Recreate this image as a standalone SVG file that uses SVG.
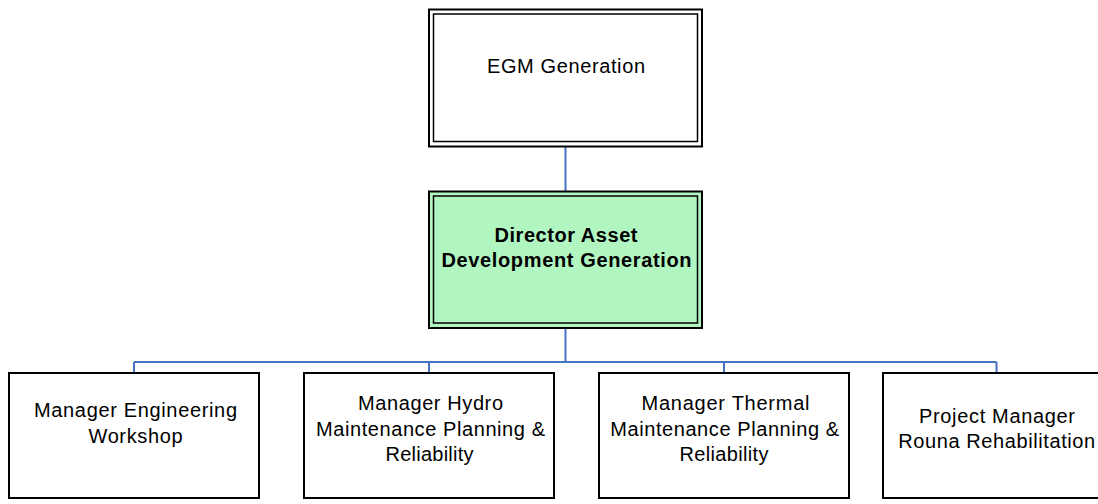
<svg xmlns="http://www.w3.org/2000/svg" width="1098" height="504" viewBox="0 0 1098 504">
<style>
.box{fill:#ffffff;stroke:#000000;stroke-width:2}
.outer{stroke:#000000;stroke-width:2}
.inner{fill:none;stroke:#000000;stroke-width:1.5}
.conn{fill:none;stroke:#4472C4;stroke-width:2}
text{font-family:"Liberation Sans",Arial,sans-serif;font-size:20px;fill:#000000;text-anchor:middle}
.b{font-weight:bold}
</style>
<rect width="1098" height="504" fill="#ffffff"/>
<g id="connectors">
<path class="conn" d="M565.5 147 V191 M565.5 328 V362 M134 362 H996.5 M134 362 V373 M429 362 V373 M724 362 V373 M996.5 362 V373"/>
</g>
<g id="egm">
<rect class="outer" x="429" y="9.5" width="273" height="137" fill="#ffffff"/>
<rect class="inner" x="433.5" y="14" width="264" height="127.5"/>
<text x="566" y="72.5" textLength="158" lengthAdjust="spacing">EGM Generation</text>
</g>
<g id="director">
<rect class="outer" x="429" y="191.5" width="273" height="136.5" fill="#b1f5c0"/>
<rect class="inner" x="433.5" y="196" width="264" height="127"/>
<text class="b" x="566" y="241.5" textLength="143" lengthAdjust="spacing">Director Asset</text>
<text class="b" x="566.5" y="267" textLength="250" lengthAdjust="spacing">Development Generation</text>
</g>
<g id="engineering">
<rect class="box" x="9" y="373" width="250" height="125"/>
<text x="135.5" y="417" textLength="203" lengthAdjust="spacing">Manager Engineering</text>
<text x="135.5" y="443" textLength="94" lengthAdjust="spacing">Workshop</text>
</g>
<g id="hydro">
<rect class="box" x="304" y="373" width="250" height="125"/>
<text x="430.5" y="410" textLength="145" lengthAdjust="spacing">Manager Hydro</text>
<text x="430.5" y="436" textLength="229" lengthAdjust="spacing">Maintenance Planning &amp;</text>
<text x="429.5" y="461" textLength="88" lengthAdjust="spacing">Reliability</text>
</g>
<g id="thermal">
<rect class="box" x="599" y="373" width="250" height="125"/>
<text x="725.5" y="410" textLength="168" lengthAdjust="spacing">Manager Thermal</text>
<text x="724.7" y="436" textLength="229" lengthAdjust="spacing">Maintenance Planning &amp;</text>
<text x="724" y="461" textLength="89" lengthAdjust="spacing">Reliability</text>
</g>
<g id="rouna">
<rect class="box" x="883" y="373" width="250" height="125"/>
<text x="997" y="423" textLength="156" lengthAdjust="spacing">Project Manager</text>
<text x="996.7" y="448" textLength="197" lengthAdjust="spacing">Rouna Rehabilitation</text>
</g>
</svg>
